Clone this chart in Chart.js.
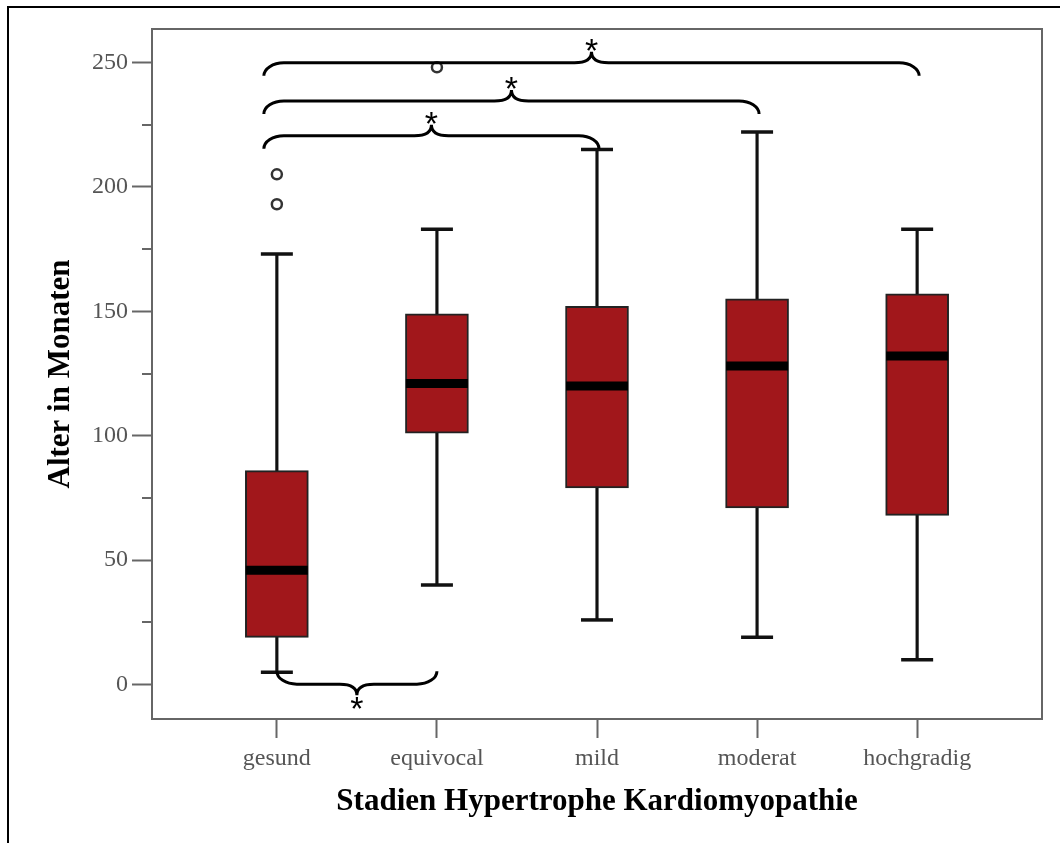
<!DOCTYPE html>
<html>
<head>
<meta charset="utf-8">
<script src="https://cdn.jsdelivr.net/npm/chart.js@4/dist/chart.umd.min.js"></script>
<style>
  body { margin: 0; background: #fff; }
  canvas { display: block; }
</style>
</head>
<body>
<canvas id="myChart" width="1060" height="843"></canvas>
<script>
// stages and box plot values (months)
const categories = ["gesund", "equivocal", "mild", "moderat", "hochgradig"];
const whiskerLow = [5, 40, 26, 19, 10];
const q1 = [19, 101, 79, 71, 68];
const medians = [46, 121, 120, 128, 132];
const q3 = [86, 149, 152, 155, 157];
const whiskerHigh = [173, 183, 215, 222, 183];

// outliers
const outlierCats = ["gesund", "gesund", "equivocal"];
const outlierValues = [205, 193, 248];

// y axis ticks
const yTicks = [0, 50, 100, 150, 200, 250];
const yMinorTicks = [25, 75, 125, 175, 225];

// significant comparisons (brace between two stages at a level)
const comparisons = [
  { from: "gesund", to: "mild", level: 220.5, below: false },
  { from: "gesund", to: "moderat", level: 234.5, below: false },
  { from: "gesund", to: "hochgradig", level: 249.8, below: false },
  { from: "gesund", to: "equivocal", level: 0.2, below: true },
];

const pos = (c) => categories.indexOf(c) + 1;
const xy = (vals) => vals.map((v, i) => ({ x: i + 1, y: v }));
const rng = (a, b) => a.map((v, i) => ({ x: i + 1, y: [v, b[i]] }));

const AXIS = "#666";

const extras = {
  id: "extras",
  beforeDraw(chart) {
    const c = chart.ctx;
    c.save();
    c.fillStyle = "#fff";
    c.fillRect(0, 0, chart.width, chart.height);
    c.restore();
  },
  afterDraw(chart) {
    const c = chart.ctx;
    const { left, right, top, bottom } = chart.chartArea;
    const xs = chart.scales.x, ys = chart.scales.y;
    c.save();
    // frame around the plot
    c.strokeStyle = AXIS;
    c.lineWidth = 2;
    c.strokeRect(left, top, right - left, bottom - top);
    // minor ticks
    yMinorTicks.forEach((v) => {
      const y = Math.round(ys.getPixelForValue(v));
      c.beginPath();
      c.moveTo(left - 10, y);
      c.lineTo(left, y);
      c.stroke();
    });
    // braces with asterisks
    c.strokeStyle = "#000";
    c.fillStyle = "#000";
    c.lineWidth = 3;
    c.font = "34px 'Liberation Sans'";
    comparisons.forEach((b) => {
      const d = b.below ? 1 : -1;
      let x0 = xs.getPixelForValue(pos(b.from));
      let x1 = xs.getPixelForValue(pos(b.to));
      if (!b.below) { x0 -= 13; x1 += 2; }
      const y = ys.getPixelForValue(b.level);
      const xm = (x0 + x1) / 2;
      const ex = 20, ey = 13, mx = 17, my = 11;
      c.beginPath();
      c.moveTo(x0, y - d * ey);
      c.bezierCurveTo(x0, y - d * ey * 0.45, x0 + ex * 0.45, y, x0 + ex, y);
      c.lineTo(xm - mx, y);
      c.bezierCurveTo(xm - mx * 0.4, y, xm, y + d * my * 0.3, xm, y + d * my);
      c.bezierCurveTo(xm, y + d * my * 0.3, xm + mx * 0.4, y, xm + mx, y);
      c.lineTo(x1 - ex, y);
      c.bezierCurveTo(x1 - ex * 0.45, y, x1, y - d * ey * 0.45, x1, y - d * ey);
      c.stroke();
      const m = c.measureText("*");
      c.textAlign = "center";
      c.textBaseline = "alphabetic";
      const peak = y + d * my;
      if (b.below) {
        c.fillText("*", xm, peak + 2 + m.actualBoundingBoxAscent);
      } else {
        c.fillText("*", xm, peak - 1 - m.actualBoundingBoxDescent);
      }
    });
    // outer picture frame (top and left)
    c.strokeStyle = "#000";
    c.lineWidth = 2;
    c.beginPath();
    c.moveTo(chart.width, 7);
    c.lineTo(8, 7);
    c.lineTo(8, chart.height);
    c.stroke();
    c.restore();
  },
};

const ctx = document.getElementById("myChart");

const data = {
  datasets: [
    {
      type: "bar",
      data: rng(whiskerLow, whiskerHigh),
      backgroundColor: "#111",
      barThickness: 2.5,
      grouped: false,
      order: 4,
    },
    {
      type: "bar",
      data: rng(q1, q3),
      backgroundColor: "#a1171b",
      borderColor: "#222",
      borderWidth: 2,
      borderSkipped: false,
      barThickness: 63,
      grouped: false,
      order: 3,
    },
    {
      type: "line",
      data: xy(medians),
      showLine: false,
      pointStyle: "line",
      pointRadius: 31,
      pointBorderWidth: 9,
      pointBorderColor: "#000",
      order: 2,
    },
    {
      type: "line",
      data: xy(whiskerHigh).concat(xy(whiskerLow)),
      showLine: false,
      pointStyle: "line",
      pointRadius: 16,
      pointBorderWidth: 3.5,
      pointBorderColor: "#111",
      order: 1,
    },
    {
      type: "scatter",
      data: outlierValues.map((v, i) => ({ x: pos(outlierCats[i]), y: v })),
      pointStyle: "circle",
      pointRadius: 5,
      pointBorderWidth: 2.5,
      pointBorderColor: "#333",
      pointBackgroundColor: "#fff",
      order: 0,
    },
  ],
};

const myChart = new Chart(ctx, {
  type: "bar",
  data,
  plugins: [extras],
  options: {
    responsive: false,
    devicePixelRatio: 1,
    animation: false,
    layout: { autoPadding: false, padding: { top: 29, right: 18, left: 0, bottom: 0 } },
    plugins: { legend: { display: false }, tooltip: { enabled: false } },
    scales: {
      x: {
        type: "linear",
        offset: false,
        min: 0.22,
        max: 5.78,
        afterFit: (s) => { s.height = 124; s.paddingLeft = 0; s.paddingRight = 0; },
        afterBuildTicks: (s) => { s.ticks = categories.map((c, i) => ({ value: i + 1 })); },
        ticks: {
          callback: (v) => categories[v - 1],
          color: "#555",
          font: { family: "'Liberation Serif'", size: 24 },
          padding: 6,
          maxRotation: 0,
        },
        grid: { offset: false, drawOnChartArea: false, tickLength: 19, tickWidth: 2, tickColor: AXIS },
        border: { color: AXIS, width: 2 },
        title: {
          display: true,
          text: "Stadien Hypertrophe Kardiomyopathie",
          color: "#000",
          font: { family: "'Liberation Serif'", size: 31, weight: "bold" },
          padding: { top: 0, bottom: 22 },
        },
      },
      y: {
        min: -13.8,
        max: 263.4,
        afterFit: (s) => { s.width = 152; s.paddingTop = 0; s.paddingBottom = 0; },
        afterBuildTicks: (s) => { s.ticks = yTicks.map((v) => ({ value: v })); },
        ticks: {
          color: "#555",
          font: { family: "'Liberation Serif'", size: 24 },
          padding: 4,
        },
        grid: { drawOnChartArea: false, tickLength: 20, tickWidth: 2, tickColor: AXIS },
        border: { color: AXIS, width: 2 },
        title: {
          display: true,
          text: "Alter in Monaten",
          color: "#000",
          font: { family: "'Liberation Serif'", size: 31, weight: "bold" },
          padding: { top: 42, bottom: 0 },
        },
      },
    },
  },
});
</script>
</body>
</html>
